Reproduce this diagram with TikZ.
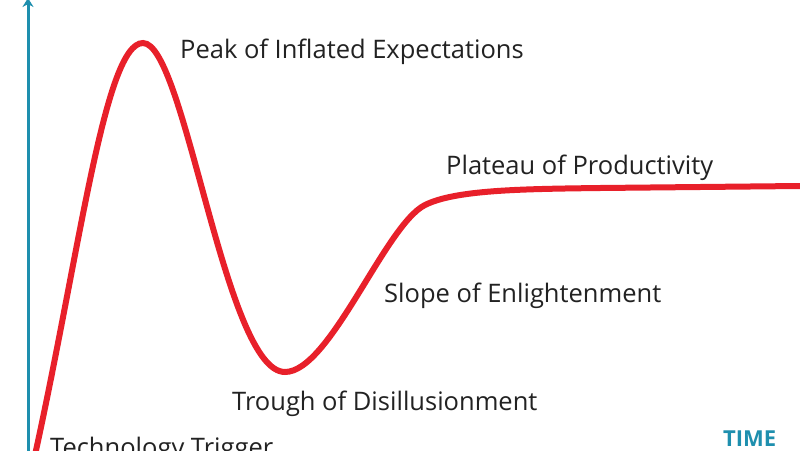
\documentclass[tikz,border=0pt]{standalone}
\usepackage{fontspec}
\setmainfont{Open Sans}
\usetikzlibrary{arrows.meta}
\definecolor{hyperojo}{HTML}{E8202A}
\definecolor{ejeazul}{HTML}{1E8FAE}
\definecolor{textogris}{HTML}{222222}
\begin{document}
\begin{tikzpicture}[x=1pt, y=-1pt]
            \tikzset{etapa/.style={anchor=base west, inner sep=0pt, text=textogris, font=\fontsize{25.5}{28}\selectfont}}
            \clip (0,0) rectangle (800,450);
            \fill[white] (0,0) rectangle (800,450);

            % eje vertical
            \coordinate (base) at (28,452);
            \coordinate (tope) at (28,-2);
            \draw[ejeazul, line width=3pt, -{Stealth[length=9pt, width=11pt]}] (base) -- (tope);

            % curva del ciclo
            \coordinate (inicio) at (35,455);
            \coordinate (pico) at (143,43);
            \coordinate (valle) at (285,372);
            \coordinate (codo) at (425,205);
            \coordinate (meseta) at (600,188);
            \coordinate (fin) at (800,186);
            \draw[hyperojo, line width=6pt, line cap=round]
                (inicio) .. controls (80,250) and (105,43) .. (pico)
                .. controls (185,43) and (225,372) .. (valle)
                .. controls (330,372) and (385,225) .. (codo)
                .. controls (455,190) and (520,189) .. (meseta)
                -- (fin);

            \node[etapa] (peak) at (180,58) {Peak of Inflated Expectations};
            \node[etapa] (plateau) at (446,174) {Plateau of Productivity};
            \node[etapa] (slope) at (384,302) {Slope of Enlightenment};
            \node[etapa] (trough) at (232,410) {Trough of Disillusionment};
            \node[etapa] (trigger) at (50,456) {Technology Trigger};
            \node[anchor=base west, inner sep=0pt, text=ejeazul, font=\fontsize{22}{24}\selectfont\bfseries] (time) at (723,446) {TIME};
        \end{tikzpicture}
\end{document}
